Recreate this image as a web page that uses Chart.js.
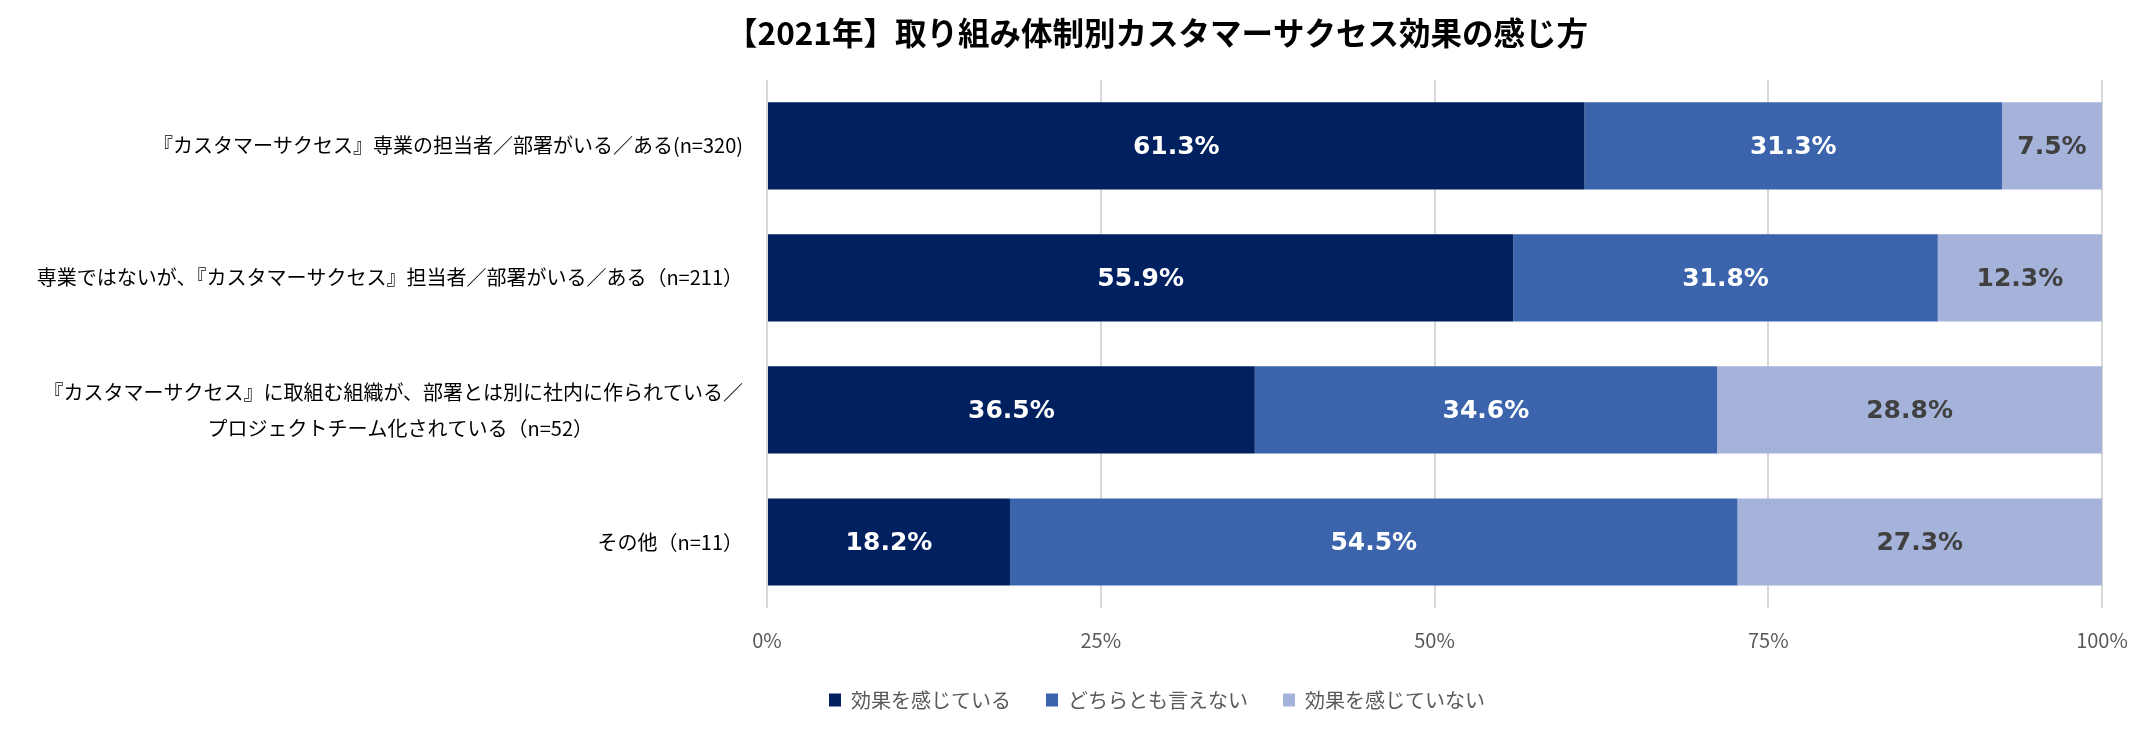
<!DOCTYPE html>
<html lang="ja">
<head>
<meta charset="utf-8">
<title>取り組み体制別カスタマーサクセス効果の感じ方</title>
<script src="https://cdn.jsdelivr.net/npm/chart.js@4.4.1/dist/chart.umd.min.js"></script>
<style>
  html, body { margin: 0; padding: 0; background: #ffffff; }
  canvas { display: block; }
</style>
</head>
<body>
<canvas id="chart" width="2154" height="729"></canvas>
<script>
  'use strict';

  const chartTitle = '【2021年】取り組み体制別カスタマーサクセス効果の感じ方';

  const categories = [
    '『カスタマーサクセス』専業の担当者／部署がいる／ある(n=320)',
    '専業ではないが、『カスタマーサクセス』担当者／部署がいる／ある（n=211）',
    ['『カスタマーサクセス』に取組む組織が、部署とは別に社内に作られている／',
     'プロジェクトチーム化されている（n=52）' + '\u3000'.repeat(8)],
    'その他（n=11）'
  ];

  const seriesNames = ['効果を感じている', 'どちらとも言えない', '効果を感じていない'];
  const feltEffect = [61.3, 55.9, 36.5, 18.2];
  const neutral = [31.3, 31.8, 34.6, 54.5];
  const noEffect = [7.5, 12.3, 28.8, 27.3];
  const xTickLabels = ['0%', '25%', '50%', '75%', '100%'];

  const barColors = ['#002060', '#3B64AD', '#A5B3DB'];
  const labelColors = ['#ffffff', '#ffffff', '#404040'];

  // 100% stacked like the original: each row scaled to its own total
  const series = [feltEffect, neutral, noEffect];
  const rowTotals = categories.map((_, i) => series.reduce((sum, s) => sum + s[i], 0));

  const datasets = series.map((values, si) => ({
    label: seriesNames[si],
    data: values.map((v, i) => v / rowTotals[i] * 100),
    rawValues: values,
    backgroundColor: barColors[si],
    borderWidth: 0,
    barPercentage: 0.66,
    categoryPercentage: 1
  }));

  // value labels in the middle of each segment
  const barLabels = {
    id: 'barLabels',
    afterDatasetsDraw(chart) {
      const ctx = chart.ctx;
      ctx.save();
      ctx.font = 'bold 25px "DejaVu Sans", Verdana, sans-serif';
      ctx.textAlign = 'center';
      ctx.textBaseline = 'middle';
      chart.data.datasets.forEach((ds, di) => {
        const meta = chart.getDatasetMeta(di);
        meta.data.forEach((bar, i) => {
          ctx.fillStyle = labelColors[di];
          ctx.fillText(ds.rawValues[i].toFixed(1) + '%', (bar.x + bar.base) / 2, bar.y + 2);
        });
      });
      ctx.restore();
    }
  };

  // the original centres title and legend a bit right of the page centre
  const shiftBlocks = {
    id: 'shiftBlocks',
    afterLayout(chart) {
      const dx = 106;
      [chart.titleBlock, chart.legend].forEach((box) => {
        if (!box) return;
        box.left += dx;
        box.right += dx;
      });
    }
  };

  const jpFont = '"Noto Sans CJK JP", "Noto Sans", sans-serif';

  new Chart(document.getElementById('chart'), {
    type: 'bar',
    data: { labels: categories, datasets: datasets },
    plugins: [barLabels, shiftBlocks],
    options: {
      indexAxis: 'y',
      responsive: false,
      animation: false,
      devicePixelRatio: 1,
      layout: { padding: { top: 10, left: 0, right: 52, bottom: 9 } },
      scales: {
        x: {
          stacked: true,
          min: 0,
          max: 100,
          grid: { color: '#d9d9d9', lineWidth: 2, drawTicks: false },
          border: { display: false },
          ticks: {
            stepSize: 25,
            color: '#595959',
            padding: 20,
            font: { family: jpFont, size: 20 },
            callback: (v, i) => xTickLabels[i]
          },
          afterFit(scale) { scale.height = 47; }
        },
        y: {
          stacked: true,
          grid: { display: false, drawTicks: false },
          border: { display: false },
          ticks: {
            color: '#000000',
            padding: 24,
            font: { family: jpFont, size: 20, lineHeight: 1.8 }
          },
          afterFit(scale) { scale.width = 767; }
        }
      },
      plugins: {
        title: {
          display: true,
          text: chartTitle,
          color: '#000000',
          font: { family: jpFont, size: 31.5, weight: 'bold' },
          padding: { top: 4, bottom: 28 }
        },
        legend: {
          position: 'bottom',
          labels: {
            boxWidth: 12,
            boxHeight: 13,
            padding: 35,
            color: '#595959',
            font: { family: jpFont, size: 20 }
          }
        },
        tooltip: { enabled: false }
      }
    }
  });
</script>
</body>
</html>
